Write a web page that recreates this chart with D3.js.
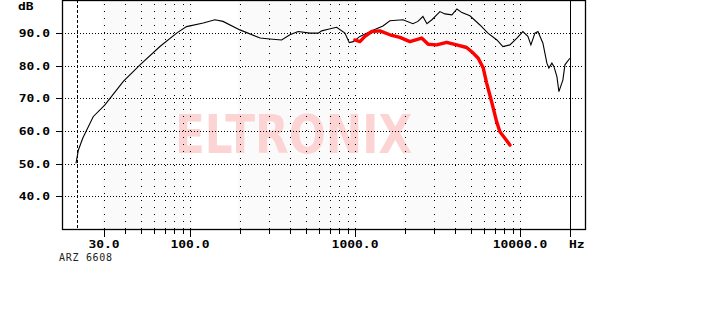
<!DOCTYPE html>
<html>
<head>
<meta charset="utf-8">
<script src="https://cdn.jsdelivr.net/npm/d3@7"></script>
<style>
  body { margin: 0; background: #fff; }
  svg { display: block; }
</style>
</head>
<body>
<div id="chart"></div>
<script>
// full range response (black)
var blackFreq = [20.3, 21, 22.3, 25.8, 30.4, 39.3, 49.6, 65.5, 82.7, 95, 120, 141, 158, 200, 265, 304, 358, 402, 451, 531, 597, 626, 686, 771, 866, 920, 972, 1068, 1262, 1472, 1623, 1945, 2237, 2399, 2572, 2720, 2916, 3260, 3496, 3855, 4134, 4433, 4957, 5700, 6373, 7225, 7855, 8660, 9550, 10380, 11130, 11610, 12280, 12810, 13730, 14510, 14920, 15560, 16000, 16690, 17160, 18150, 18660, 20000];
var blackDb = [50.1, 54.2, 57.8, 64.4, 68.0, 75.2, 80.3, 85.9, 90.0, 92.0, 93.1, 94.1, 93.6, 91.0, 88.5, 88.2, 87.9, 89.5, 90.5, 90.0, 90.0, 90.7, 91.2, 91.8, 90.0, 87.1, 87.4, 89.0, 90.7, 92.2, 93.8, 94.1, 92.9, 93.6, 95.1, 92.9, 94.1, 96.6, 95.9, 95.6, 97.4, 96.3, 95.3, 92.5, 90.0, 87.9, 85.9, 86.4, 88.5, 90.5, 89.0, 86.4, 90.0, 90.5, 86.9, 80.8, 79.3, 80.8, 79.8, 76.7, 72.1, 75.7, 80.3, 82.3];

// filtered response (red)
var redFreq = [995, 1068, 1145, 1257, 1411, 1623, 1866, 2146, 2526, 2770, 3114, 3580, 4117, 4732, 5190, 5566, 5970, 6260, 6710, 7194, 7535, 8077, 8660];
var redDb = [87.9, 87.4, 89.0, 90.5, 90.7, 89.5, 88.7, 87.4, 88.5, 86.6, 86.4, 87.2, 86.4, 85.6, 83.9, 82.3, 79.3, 74.7, 69.0, 62.9, 59.8, 57.8, 55.7];

var yTicks = [40, 50, 60, 70, 80, 90];
var xLabelTicks = [30, 100, 1000, 10000];
var xMinorTicks = [30, 40, 50, 60, 70, 80, 90, 100, 200, 300, 400, 500, 600, 700, 800, 900, 1000, 2000, 3000, 4000, 5000, 6000, 7000, 8000, 9000, 10000];
var shadeBands = [[30, 100], [200, 1000], [2000, 10000]];
var startFreq = 20.5;
var limitFreq = 20000;
var yUnit = "dB";
var xUnit = "Hz";
var footnote = "ARZ 6608";
var watermark = "ELTRONIX";

var W = 726, H = 336;
var plotL = 62, plotR = 585, plotT = 0, plotB = 229;

var svg = d3.select("#chart").append("svg").attr("width", W).attr("height", H);

var x = d3.scaleLog().domain([16.7, 24700]).range([plotL, plotR]);
var y = d3.scaleLinear().domain([30, 100]).range([plotB, plotT + 0.5]);

// faint shaded bands
svg.selectAll("rect.band").data(shadeBands).enter().append("rect")
  .attr("class", "band")
  .attr("x", function(d){ return x(d[0]) - 2; })
  .attr("width", function(d){ return x(d[1]) - x(d[0]) + 4; })
  .attr("y", plotT).attr("height", plotB - plotT)
  .attr("fill", "#fafafa");

// watermark
svg.append("text")
  .attr("x", 175).attr("y", 153)
  .attr("textLength", 237).attr("lengthAdjust", "spacingAndGlyphs")
  .style("font-family", "DejaVu Sans").style("font-weight", "900").style("font-size", "54px")
  .attr("fill", "#fcd4d4")
  .text(watermark);

// horizontal dotted grid
svg.selectAll("line.hgrid").data(yTicks).enter().append("line")
  .attr("x1", plotL).attr("x2", plotR - 2)
  .attr("y1", function(d){ return Math.round(y(d)) + 0.5; })
  .attr("y2", function(d){ return Math.round(y(d)) + 0.5; })
  .attr("stroke", "#000").attr("stroke-dasharray", "1,2");

// vertical dotted grid
svg.selectAll("line.vgrid").data(xMinorTicks).enter().append("line")
  .attr("x1", function(d){ return Math.round(x(d)) + 0.5; })
  .attr("x2", function(d){ return Math.round(x(d)) + 0.5; })
  .attr("y1", plotT + 4).attr("y2", plotB)
  .attr("stroke", "#000").attr("stroke-dasharray", "1,6");

// start marker (dashed) and upper limit (solid)
svg.append("line")
  .attr("x1", Math.round(x(startFreq)) + 0.5).attr("x2", Math.round(x(startFreq)) + 0.5)
  .attr("y1", plotT).attr("y2", plotB)
  .attr("stroke", "#000").attr("stroke-dasharray", "3,2");
svg.append("line")
  .attr("x1", Math.round(x(limitFreq)) + 0.5).attr("x2", Math.round(x(limitFreq)) + 0.5)
  .attr("y1", plotT).attr("y2", plotB + 8)
  .attr("stroke", "#000");

// frame
svg.append("rect")
  .attr("x", plotL + 0.5).attr("y", plotT + 0.5)
  .attr("width", plotR - plotL).attr("height", plotB - plotT)
  .attr("fill", "none").attr("stroke", "#000").attr("stroke-width", 1.3);

// ticks
svg.selectAll("line.xtick").data(xMinorTicks).enter().append("line")
  .attr("x1", function(d){ return Math.round(x(d)) + 0.5; })
  .attr("x2", function(d){ return Math.round(x(d)) + 0.5; })
  .attr("y1", plotB)
  .attr("y2", function(d){ return xLabelTicks.indexOf(d) >= 0 ? plotB + 8 : plotB + 5; })
  .attr("stroke", "#000");
svg.selectAll("line.ytick").data(yTicks).enter().append("line")
  .attr("x1", plotL - 6).attr("x2", plotL)
  .attr("y1", function(d){ return Math.round(y(d)) + 0.5; })
  .attr("y2", function(d){ return Math.round(y(d)) + 0.5; })
  .attr("stroke", "#000");

// curves
var line = d3.line()
  .x(function(d){ return x(d[0]); })
  .y(function(d){ return y(d[1]); });

svg.append("path")
  .datum(d3.zip(blackFreq, blackDb))
  .attr("d", line)
  .attr("fill", "none").attr("stroke", "#000").attr("stroke-width", 1.1);

svg.append("path")
  .datum(d3.zip(redFreq, redDb))
  .attr("d", line)
  .attr("fill", "none").attr("stroke", "#f00").attr("stroke-width", 3.4)
  .attr("stroke-linejoin", "round").attr("stroke-linecap", "round");

// wide bold labels
function label(px, py, txt, anchor){
  svg.append("g")
    .attr("transform", "translate(" + px + "," + py + ") scale(1.3,1)")
    .append("text")
    .attr("text-anchor", anchor)
    .style("font-family", "DejaVu Sans Mono").style("font-weight", "bold").style("font-size", "10px")
    .attr("fill", "#000")
    .text(txt);
}

yTicks.forEach(function(d){
  label(50, Math.round(y(d)) + 4, d.toFixed(1), "end");
});
xLabelTicks.forEach(function(d){
  label(Math.round(x(d)), 248, d.toFixed(1), "middle");
});
label(18, 10, yUnit, "start");
label(569, 248, xUnit, "start");

svg.append("text")
  .attr("x", 59).attr("y", 261)
  .style("font-family", "DejaVu Sans Mono").style("font-size", "10px").style("letter-spacing", "0.7px")
  .attr("fill", "#222")
  .text(footnote);
</script>
</body>
</html>
